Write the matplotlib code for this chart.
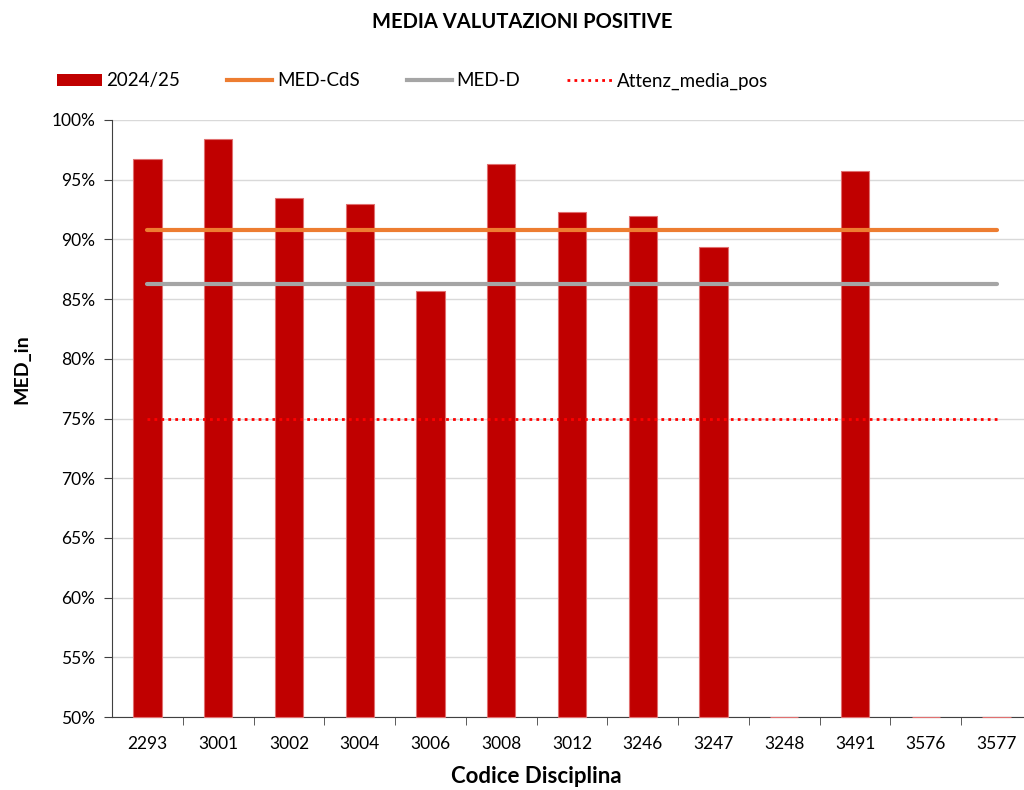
import numpy as np
import matplotlib
matplotlib.use("Agg")
import matplotlib.pyplot as plt
from matplotlib.ticker import PercentFormatter, FixedLocator, NullFormatter
from matplotlib.lines import Line2D
from matplotlib.patches import Patch

plt.rcParams['font.family'] = ['Lato', 'DejaVu Sans']

# Data
codes = ['2293', '3001', '3002', '3004', '3006', '3008', '3012',
         '3246', '3247', '3248', '3491', '3576', '3577']
val_2024 = [0.967, 0.984, 0.935, 0.930, 0.857, 0.963, 0.923,
            0.920, 0.894, 0.0, 0.957, 0.0, 0.0]
med_cds = 0.908
med_d = 0.863
attenz_media_pos = 0.75

y_min, y_max = 0.50, 1.00

fig = plt.figure(figsize=(10.24, 7.9), dpi=100)
ax = fig.add_axes([112 / 1024, 1 - 717 / 790, 920 / 1024, 597 / 790])

x = np.arange(len(codes))
# Excel draws the bars from the axis minimum
heights = [max(v - y_min, 0) for v in val_2024]
ax.bar(x, heights, bottom=y_min, width=0.4, color='#c00000',
       edgecolor='#e07070', linewidth=0.8, zorder=3, clip_on=False)

ax.plot([x[0], x[-1]], [med_cds] * 2, color='#ed7d31', lw=3,
        solid_capstyle='round', zorder=4)
ax.plot([x[0], x[-1]], [med_d] * 2, color='#a5a5a5', lw=3,
        solid_capstyle='round', zorder=4)
ax.plot([x[0], x[-1]], [attenz_media_pos] * 2, color='#ff0000',
        lw=2, ls=(0, (1, 1.5)), zorder=4)

ax.set_xlim(-0.5, len(codes) - 0.5)
ax.set_ylim(y_min, y_max)
ax.set_yticks(np.arange(0.50, 1.0001, 0.05))
ax.yaxis.set_major_formatter(PercentFormatter(1.0, decimals=0))
ax.grid(axis='y', color='#d9d9d9', lw=1, zorder=0)
ax.set_axisbelow(True)

ax.set_xticks(x)
ax.set_xticklabels(codes)
ax.tick_params(axis='x', which='major', length=0, pad=14, labelsize=12.5)
ax.xaxis.set_minor_locator(FixedLocator(np.arange(0.5, len(codes) - 0.5, 1)))
ax.xaxis.set_minor_formatter(NullFormatter())
ax.tick_params(axis='x', which='minor', length=6, color='#404040')
ax.tick_params(axis='y', length=6, color='#404040', labelsize=12.5, pad=6)

for s in ['top', 'right']:
    ax.spines[s].set_visible(False)
ax.spines['left'].set_color('#404040')
ax.spines['bottom'].set_color('#404040')

ax.set_xlabel('Codice Disciplina', fontsize=16, fontweight='bold')
ax.xaxis.set_label_coords((536 - 112) / 920, -(766 - 717) / 597)
ax.set_ylabel('MED_in', fontsize=14, fontweight='bold')
ax.yaxis.set_label_coords((30 - 112) / 920, (717 - 369) / 597)

fig.text(522 / 1024, 1 - 22 / 790, 'MEDIA VALUTAZIONI POSITIVE',
         ha='center', va='center', fontsize=14.5, fontweight='bold')

handles = [
    Patch(facecolor='#c00000', edgecolor='none'),
    Line2D([0], [0], color='#ed7d31', lw=3),
    Line2D([0], [0], color='#a5a5a5', lw=3),
    Line2D([0], [0], color='#ff0000', lw=2, ls=(0, (1, 1.5))),
]
labels = ['2024/25', 'MED-CdS', 'MED-D', 'Attenz_media_pos']
fig.legend(handles, labels, loc='center left', ncol=4,
           bbox_to_anchor=(40 / 1024, 1 - 81 / 790), frameon=False,
           fontsize=13.5, handlelength=2.4, handleheight=0.6,
           handletextpad=0.25, columnspacing=2.5)

fig.savefig('out.png', dpi=100)
